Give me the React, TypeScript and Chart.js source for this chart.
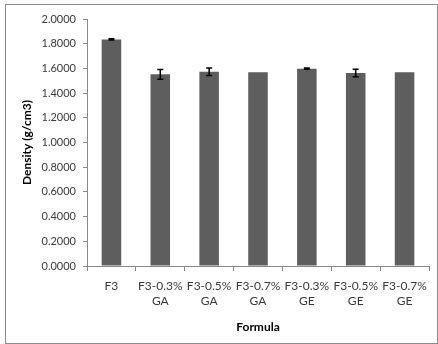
import React, { useEffect, useRef } from "react";
import { Chart, registerables } from "chart.js";

Chart.register(...registerables);

const categories: string[][] = [
  ["F3"],
  ["F3-0.3%", "GA"],
  ["F3-0.5%", "GA"],
  ["F3-0.7%", "GA"],
  ["F3-0.3%", "GE"],
  ["F3-0.5%", "GE"],
  ["F3-0.7%", "GE"],
];
const density: number[] = [1.835, 1.552, 1.573, 1.568, 1.598, 1.563, 1.568];
const densityError: number[] = [0.005, 0.04, 0.031, 0, 0.005, 0.031, 0];

const FONT = "Lato, 'Open Sans', sans-serif";
const AXIS_GREY = "#8a8a8a";

// Vertical error bars with caps, centred on each bar
const errorBars = {
  id: "errorBars",
  afterDatasetsDraw(chart: any) {
    const { ctx } = chart;
    const meta = chart.getDatasetMeta(0);
    const yScale = chart.scales.y;
    ctx.save();
    ctx.strokeStyle = "#000";
    ctx.lineWidth = 1.5;
    meta.data.forEach((bar: any, i: number) => {
      const err = densityError[i];
      if (!err) return;
      const v = density[i];
      const yTop = yScale.getPixelForValue(v + err);
      const yBot = yScale.getPixelForValue(v - err);
      const x = bar.x;
      const cap = 3;
      ctx.beginPath();
      ctx.moveTo(x, yTop);
      ctx.lineTo(x, yBot);
      ctx.moveTo(x - cap, yTop);
      ctx.lineTo(x + cap, yTop);
      ctx.moveTo(x - cap, yBot);
      ctx.lineTo(x + cap, yBot);
      ctx.stroke();
    });
    ctx.restore();
  },
};

// Thin frame around the whole chart
const frame = {
  id: "frame",
  afterDraw(chart: any) {
    const { ctx, width, height } = chart;
    ctx.save();
    ctx.strokeStyle = "#8c8c8c";
    ctx.lineWidth = 1;
    ctx.strokeRect(5.5, 4.5, width - 6, height - 5);
    ctx.restore();
  },
};

export default function App() {
  const canvasRef = useRef<HTMLCanvasElement | null>(null);

  useEffect(() => {
    if (!canvasRef.current) return;
    const chart = new Chart(canvasRef.current, {
      type: "bar",
      data: {
        labels: categories,
        datasets: [
          {
            data: density,
            backgroundColor: "#5e5e5e",
            borderWidth: 0,
            barPercentage: 0.4,
            categoryPercentage: 1,
          },
        ],
      },
      plugins: [errorBars, frame],
      options: {
        responsive: false,
        animation: false,
        devicePixelRatio: 1,
        layout: { padding: { left: 0, right: 9, top: 19, bottom: 0 } },
        plugins: {
          legend: { display: false },
          tooltip: { enabled: false },
        },
        scales: {
          x: {
            afterFit(scale: any) {
              scale.height = 78;
            },
            border: { color: AXIS_GREY, width: 1 },
            grid: {
              display: true,
              drawOnChartArea: false,
              drawTicks: true,
              tickLength: 5,
              color: AXIS_GREY,
            },
            ticks: {
              color: "#3a3a3a",
              font: { family: FONT, size: 12, lineHeight: 1.25 },
              padding: 8,
              maxRotation: 0,
              autoSkip: false,
            },
            title: {
              display: true,
              text: "Formula",
              color: "#000",
              font: { family: FONT, size: 12, weight: "bold", lineHeight: 1.2 },
              padding: { top: 0, bottom: 10 },
            },
          },
          y: {
            min: 0,
            max: 2,
            afterFit(scale: any) {
              scale.width = 87;
            },
            border: { color: AXIS_GREY, width: 1 },
            grid: {
              display: true,
              drawOnChartArea: false,
              drawTicks: true,
              tickLength: 4,
              color: AXIS_GREY,
            },
            ticks: {
              stepSize: 0.2,
              color: "#3a3a3a",
              padding: 7,
              font: { family: FONT, size: 11 },
              callback: (v: any) => Number(v).toFixed(4),
            },
            title: {
              display: true,
              text: "Density (g/cm3)",
              color: "#000",
              font: { family: FONT, size: 12, weight: "bold", lineHeight: 1.2 },
              padding: { top: 20, bottom: 0 },
            },
          },
        },
      },
    });
    return () => chart.destroy();
  }, []);

  return (
    <div style={{ position: "fixed", left: 0, top: 0, width: 438, height: 344, background: "#fff" }}>
      <canvas ref={canvasRef} width={438} height={344} style={{ display: "block" }} />
    </div>
  );
}
